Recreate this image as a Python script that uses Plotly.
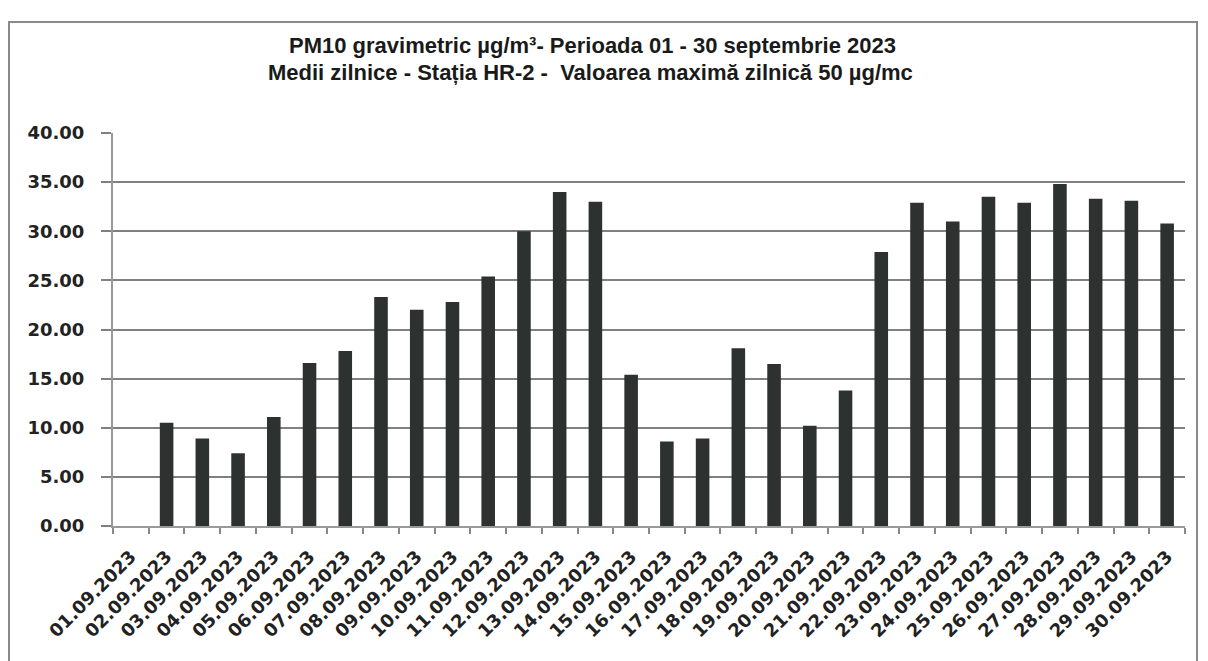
import plotly.graph_objects as go

dates = ["01.09.2023", "02.09.2023", "03.09.2023", "04.09.2023", "05.09.2023",
         "06.09.2023", "07.09.2023", "08.09.2023", "09.09.2023", "10.09.2023",
         "11.09.2023", "12.09.2023", "13.09.2023", "14.09.2023", "15.09.2023",
         "16.09.2023", "17.09.2023", "18.09.2023", "19.09.2023", "20.09.2023",
         "21.09.2023", "22.09.2023", "23.09.2023", "24.09.2023", "25.09.2023",
         "26.09.2023", "27.09.2023", "28.09.2023", "29.09.2023", "30.09.2023"]
pm10 = [None, 10.5, 8.9, 7.4, 11.1, 16.6, 17.8, 23.3, 22.0, 22.8,
        25.4, 30.0, 34.0, 33.0, 15.4, 8.6, 8.9, 18.1, 16.5, 10.2,
        13.8, 27.9, 32.9, 31.0, 33.5, 32.9, 34.8, 33.3, 33.1, 30.8]
y_ticks = [0, 5, 10, 15, 20, 25, 30, 35, 40]

title_line1 = "PM10 gravimetric µg/m³- Perioada 01 - 30 septembrie 2023"
title_line2 = "Medii zilnice - Stația HR-2 -  Valoarea maximă zilnică 50 µg/mc"

# page body has an 8px margin; work in figure coordinates
OFF = 8
FW, FH = 1200, 653
L, R, T, B = 113 - OFF, 1185 - OFF, 133 - OFF, 526 - OFF
W, H = R - L, B - T

fig = go.Figure()
fig.add_trace(go.Bar(x=dates, y=pm10, marker=dict(color="#2d3231", line=dict(width=0))))

title_font = dict(family="Liberation Sans, Arial", size=22, color="#1a1a1a", weight="bold")

fig.update_layout(
    width=FW, height=FH,
    margin=dict(l=L, r=FW - R, t=T, b=FH - B),
    paper_bgcolor="white", plot_bgcolor="white",
    bargap=0.62, showlegend=False,
    xaxis=dict(type="category", tickangle=-45, tickson="boundaries", ticks="outside",
               ticklen=6, tickcolor="#888", tickwidth=1.5, showline=True, linecolor="#999",
               linewidth=2, showgrid=False, automargin=False, ticklabelstandoff=11,
               tickfont=dict(family="DejaVu Sans", size=18, color="#222", weight="bold")),
    yaxis=dict(range=[0, 40], tickvals=y_ticks, tickformat=".2f", ticks="outside",
               ticklen=10, tickcolor="#808080", tickwidth=2, showline=True, linecolor="#999",
               linewidth=2, showgrid=True, gridcolor="#808080", gridwidth=2, zeroline=False,
               automargin=False, ticklabelstandoff=13,
               tickfont=dict(family="DejaVu Sans", size=18, color="#222", weight="bold")),
    annotations=[
        dict(text=title_line1, xref="paper", yref="paper", x=(592 - OFF - L) / W,
             y=(B - (46 - OFF)) / H, xanchor="center", yanchor="middle",
             showarrow=False, font=title_font),
        dict(text=title_line2, xref="paper", yref="paper", x=(590 - OFF - L) / W,
             y=(B - (73 - OFF)) / H, xanchor="center", yanchor="middle",
             showarrow=False, font=title_font),
    ],
    shapes=[dict(type="rect", xref="paper", yref="paper",
                 x0=(9 - OFF - L) / W, x1=(1197 - OFF - L) / W,
                 y0=(B - 700) / H, y1=(B - (22 - OFF)) / H,
                 line=dict(color="#8a8a8a", width=2), fillcolor="rgba(0,0,0,0)", layer="below")],
)

fig.write_html("out.html")
